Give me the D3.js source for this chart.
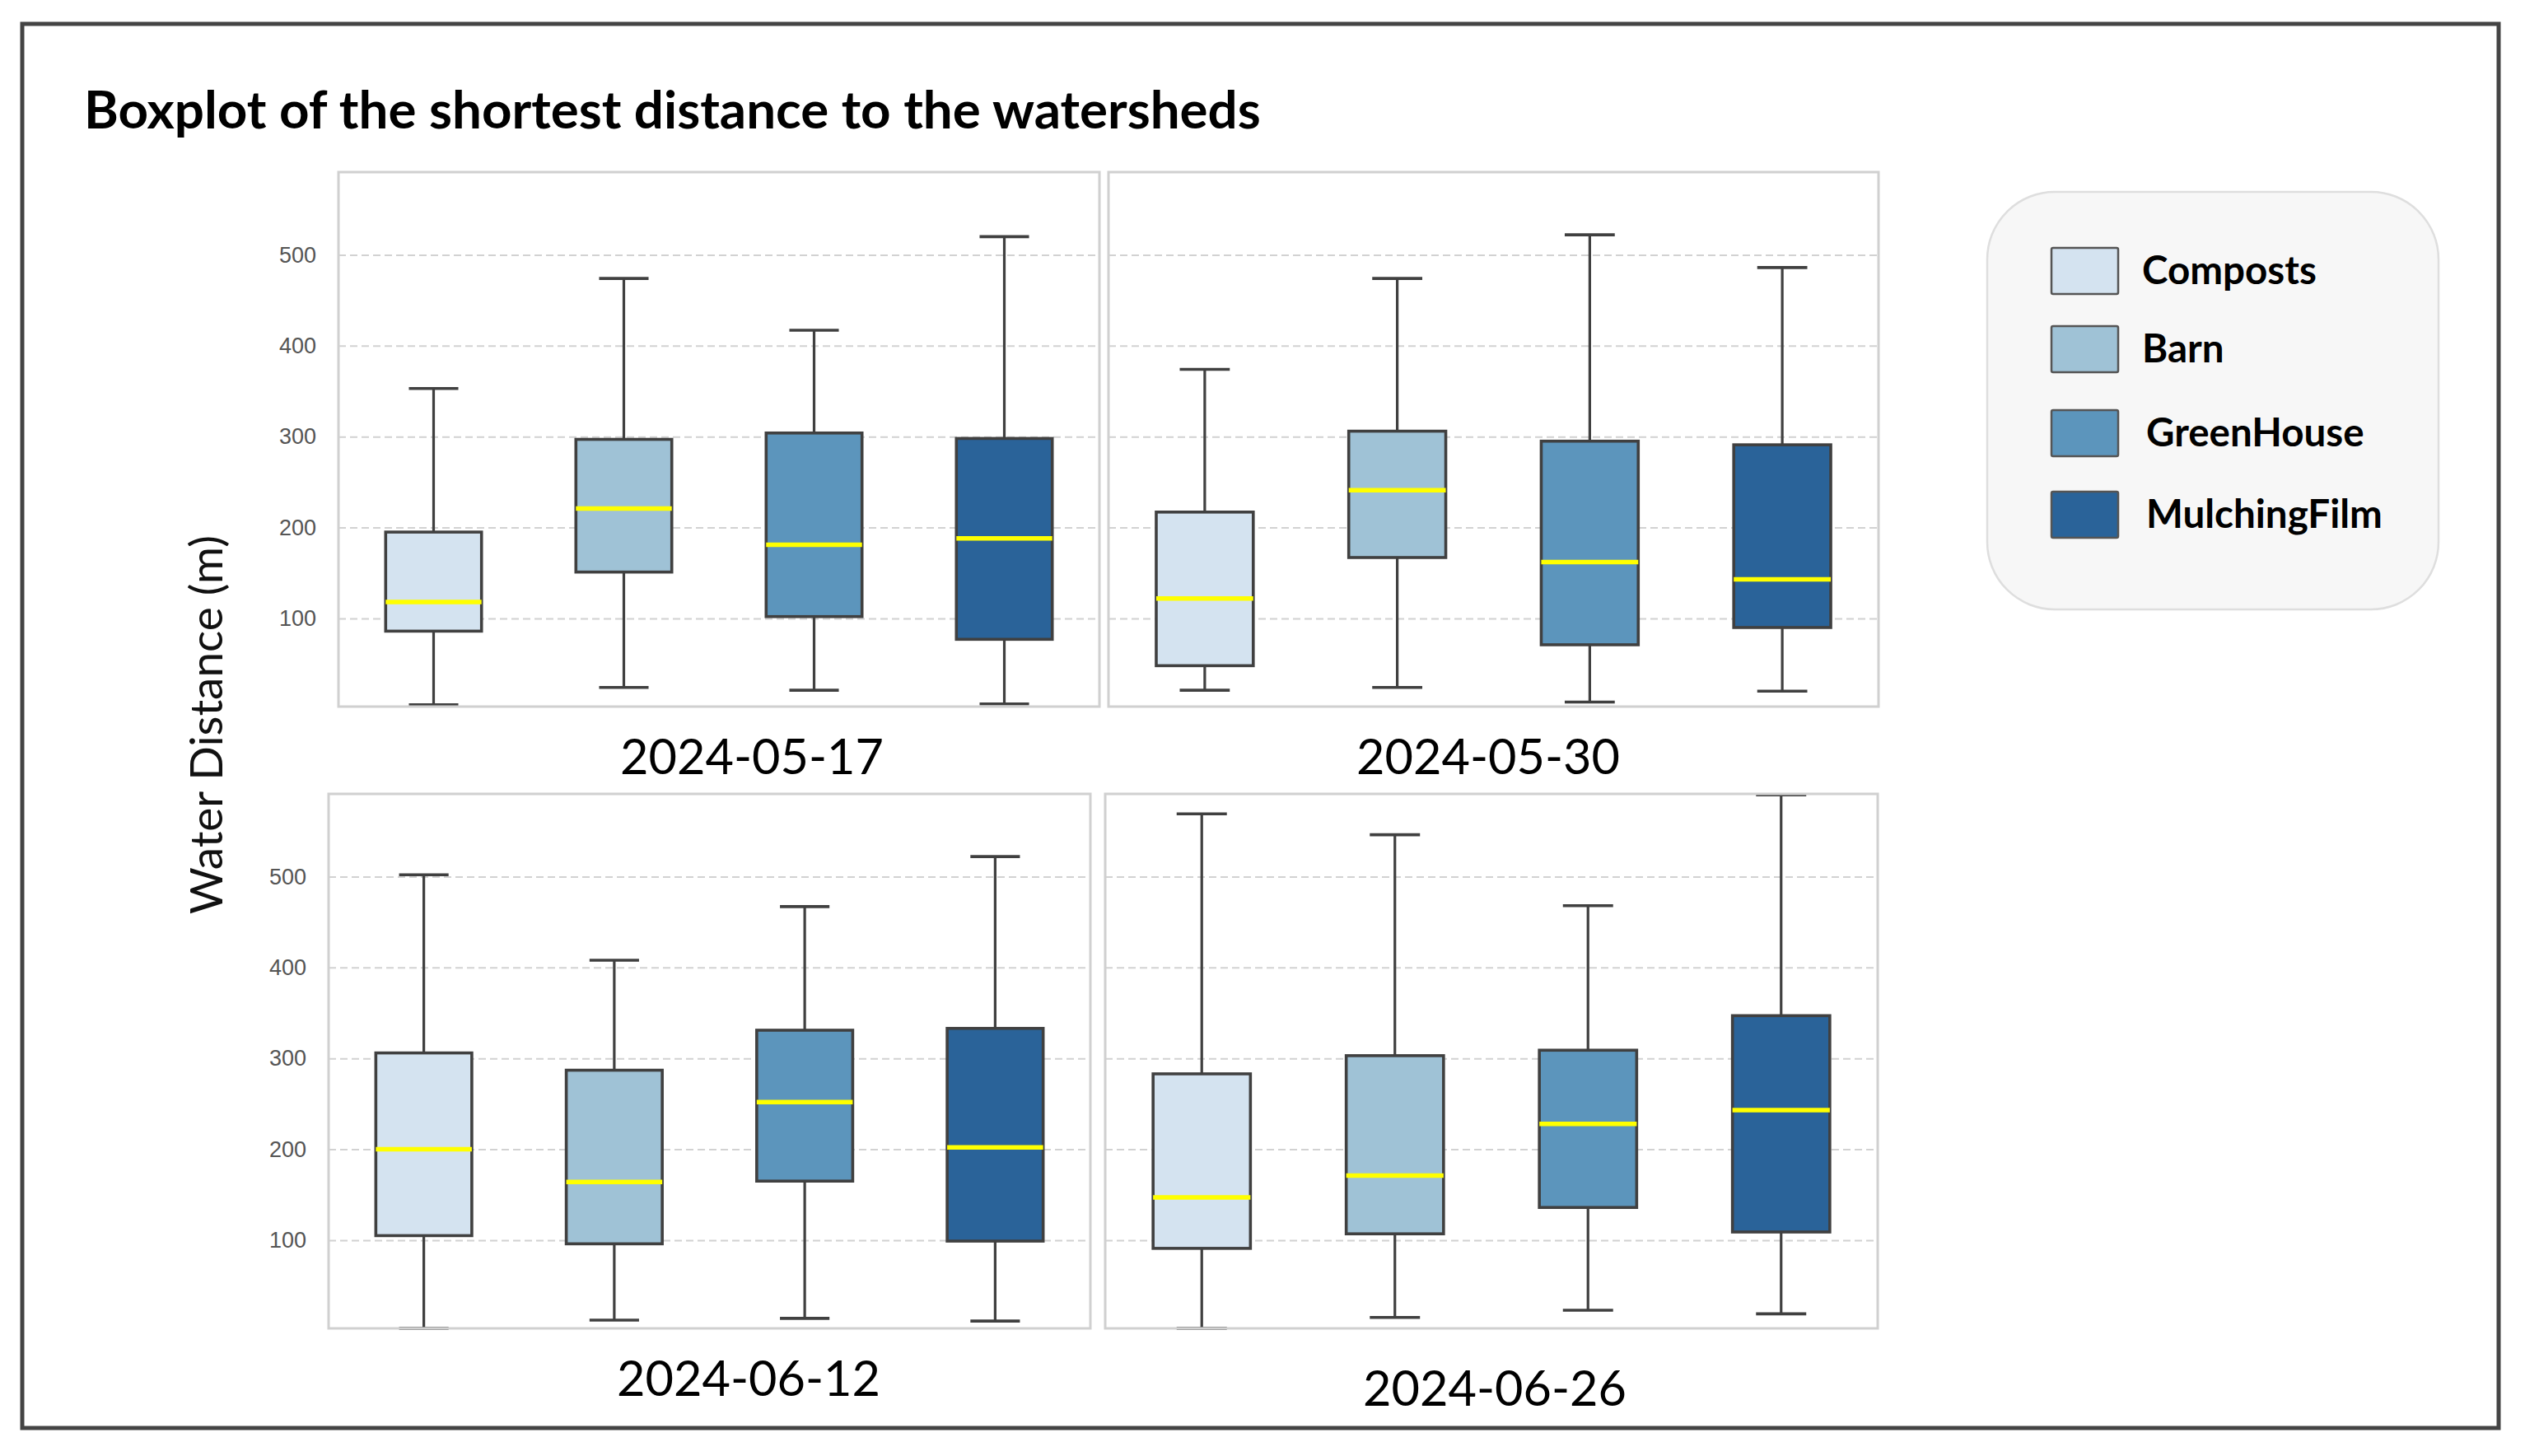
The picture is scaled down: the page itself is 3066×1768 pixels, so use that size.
<!DOCTYPE html>
<html>
<head>
<meta charset="utf-8">
<script src="https://cdn.jsdelivr.net/npm/d3@7"></script>
<style>
  body { margin: 0; background: #fff; }
  svg { display: block; }
</style>
</head>
<body>
<div id="chart"></div>
<script>
/* Data */
const dates = ['2024-05-17', '2024-05-30', '2024-06-12', '2024-06-26'];
const categories = ['Composts', 'Barn', 'GreenHouse', 'MulchingFilm'];
const yTicks = [100, 200, 300, 400, 500];

// one row per date, one column per category
const lowWhisker = [
  [5, 24, 21, 6],
  [21, 24, 8, 20],
  [3, 12, 14, 11],
  [3, 15, 23, 19],
];
const q1 = [
  [86, 151, 102, 77],
  [48, 167, 71, 90],
  [105, 96, 165, 99],
  [91, 107, 136, 109],
];
const median = [
  [118, 221, 181, 188],
  [122, 241, 162, 143],
  [200, 164, 252, 202],
  [147, 171, 228, 243],
];
const q3 = [
  [195, 297, 304, 298],
  [217, 306, 295, 291],
  [306, 287, 331, 333],
  [283, 303, 309, 347],
];
const highWhisker = [
  [353, 474, 417, 520],
  [374, 474, 522, 486],
  [502, 408, 467, 522],
  [569, 546, 468, 590],
];

/* Layout */
const width = 3066;
const height = 1768;
const yDomain = [3, 591];
const colors = ['#d4e3f0', '#9fc2d6', '#5c95bc', '#2a6399'];

const panels = [
  { x0: 411, x1: 1335, y0: 209, y1: 858, labels: true, tx: 913, ty: 940 },
  { x0: 1346, x1: 2281, y0: 209, y1: 858, labels: false, tx: 1807, ty: 940 },
  { x0: 399, x1: 1324, y0: 964, y1: 1613, labels: true, tx: 909, ty: 1695 },
  { x0: 1342, x1: 2280, y0: 964, y1: 1613, labels: false, tx: 1815, ty: 1707 },
];

const svg = d3
  .select('#chart')
  .append('svg')
  .attr('width', width)
  .attr('height', height)
  .attr('viewBox', '0 0 ' + width + ' ' + height);

// scale the font so that a text gets the width seen in the picture
function fitSize(sel, target) {
  const base = parseFloat(sel.attr('font-size'));
  const len = sel.node().getComputedTextLength();
  return (base * target) / len;
}

// outer frame
svg
  .append('rect')
  .attr('x', 27)
  .attr('y', 29)
  .attr('width', 3007)
  .attr('height', 1705)
  .attr('fill', 'none')
  .attr('stroke', '#444')
  .attr('stroke-width', 5);

const title = svg
  .append('text')
  .attr('x', 102)
  .attr('y', 156)
  .attr('font-family', 'Lato, sans-serif')
  .attr('font-weight', 700)
  .attr('font-size', 56)
  .attr('fill', '#000')
  .text('Boxplot of the shortest distance to the watersheds');
title.attr('font-size', fitSize(title, 1429));

const yLabel = svg
  .append('text')
  .attr('transform', 'translate(270, 880) rotate(-90)')
  .attr('text-anchor', 'middle')
  .attr('font-family', 'Lato, sans-serif')
  .attr('font-size', 50)
  .attr('fill', '#111')
  .text('Water Distance (m)');
yLabel.attr('font-size', fitSize(yLabel, 460));

let dateSize = null;

panels.forEach((p, i) => {
  const g = svg.append('g').attr('class', 'panel');

  const x = d3
    .scaleBand()
    .domain(categories)
    .range([p.x0, p.x1]);

  const y = d3.scaleLinear().domain(yDomain).range([p.y1, p.y0]);

  // grid + tick labels
  const axis = d3
    .axisLeft(y)
    .tickValues(yTicks)
    .tickSize(-(p.x1 - p.x0))
    .tickPadding(27)
    .tickFormat(p.labels ? d3.format('d') : () => '');

  const ax = g
    .append('g')
    .attr('transform', `translate(${p.x0},0)`)
    .call(axis);
  ax.select('.domain').remove();
  ax.selectAll('line')
    .attr('stroke', '#d2d2d2')
    .attr('stroke-width', 2)
    .attr('stroke-dasharray', '9,5');
  ax.selectAll('text')
    .attr('font-family', 'Liberation Sans, Arial, sans-serif')
    .attr('font-size', 27)
    .attr('fill', '#555');

  const bw = x.bandwidth() * 0.504;
  const capW = x.bandwidth() * 0.26;
  const rows = categories.map((c, j) => ({
    cat: c,
    color: colors[j],
    lo: lowWhisker[i][j],
    q1: q1[i][j],
    med: median[i][j],
    q3: q3[i][j],
    hi: highWhisker[i][j],
  }));

  const box = g
    .selectAll('g.box')
    .data(rows)
    .join('g')
    .attr('class', 'box')
    .attr('transform', (d) => `translate(${x(d.cat) + x.bandwidth() / 2},0)`);

  // whiskers
  box
    .append('line')
    .attr('y1', (d) => y(d.hi))
    .attr('y2', (d) => y(d.q3))
    .attr('stroke', '#404040')
    .attr('stroke-width', 3.2);
  box
    .append('line')
    .attr('y1', (d) => y(d.q1))
    .attr('y2', (d) => y(d.lo))
    .attr('stroke', '#404040')
    .attr('stroke-width', 3.2);

  // caps
  box
    .selectAll('line.cap')
    .data((d) => [d.lo, d.hi])
    .join('line')
    .attr('class', 'cap')
    .attr('x1', -capW / 2)
    .attr('x2', capW / 2)
    .attr('y1', (v) => y(v))
    .attr('y2', (v) => y(v))
    .attr('stroke', '#404040')
    .attr('stroke-width', 3.6);

  box
    .append('rect')
    .attr('x', -bw / 2)
    .attr('width', bw)
    .attr('y', (d) => y(d.q3))
    .attr('height', (d) => y(d.q1) - y(d.q3))
    .attr('fill', (d) => d.color)
    .attr('stroke', '#404040')
    .attr('stroke-width', 3.6);

  box
    .append('line')
    .attr('x1', -bw / 2)
    .attr('x2', bw / 2)
    .attr('y1', (d) => y(d.med))
    .attr('y2', (d) => y(d.med))
    .attr('stroke', '#ffff00')
    .attr('stroke-width', 5.5);

  // frame
  g.append('rect')
    .attr('x', p.x0)
    .attr('y', p.y0)
    .attr('width', p.x1 - p.x0)
    .attr('height', p.y1 - p.y0)
    .attr('fill', 'none')
    .attr('stroke', '#d0d0d0')
    .attr('stroke-width', 3);

  const t = svg
    .append('text')
    .attr('x', p.tx)
    .attr('y', p.ty)
    .attr('text-anchor', 'middle')
    .attr('font-family', 'Lato, sans-serif')
    .attr('font-size', 58)
    .attr('fill', '#000')
    .text(dates[i]);
  if (dateSize === null) dateSize = fitSize(t, 320);
  t.attr('font-size', dateSize);
});

/* Legend */
const legend = svg.append('g').attr('class', 'legend');

legend
  .append('rect')
  .attr('x', 2413)
  .attr('y', 233)
  .attr('width', 548)
  .attr('height', 507)
  .attr('rx', 82)
  .attr('fill', '#f7f7f7')
  .attr('stroke', '#dedede')
  .attr('stroke-width', 2.5);

const rowTop = [301, 396, 498, 597];
const labelX = [2601, 2601, 2606, 2606];

legend
  .selectAll('rect.swatch')
  .data(categories)
  .join('rect')
  .attr('class', 'swatch')
  .attr('x', 2491)
  .attr('y', (d, i) => rowTop[i])
  .attr('width', 81)
  .attr('height', 56)
  .attr('rx', 2)
  .attr('fill', (d, i) => colors[i])
  .attr('stroke', '#555')
  .attr('stroke-width', 2.5);

const labels = legend
  .selectAll('text')
  .data(categories)
  .join('text')
  .attr('x', (d, i) => labelX[i])
  .attr('y', (d, i) => rowTop[i] + 28 + 16)
  .attr('font-family', 'Lato, sans-serif')
  .attr('font-weight', 700)
  .attr('font-size', 44)
  .attr('fill', '#000')
  .text((d) => d);
const legendSize = fitSize(labels.filter((d) => d === 'MulchingFilm'), 287);
labels.attr('font-size', legendSize);
</script>
</body>
</html>
